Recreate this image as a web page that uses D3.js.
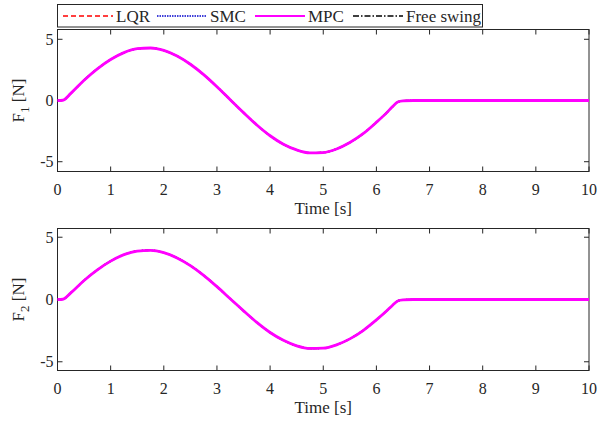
<!DOCTYPE html>
<html>
<head>
<meta charset="utf-8">
<script src="https://cdn.jsdelivr.net/npm/d3@7"></script>
<style>
  body { margin: 0; background: #fff; }
  svg { display: block; }
  text { font-family: "Liberation Serif", "Times New Roman", serif; }
</style>
</head>
<body>
<script>
// time samples [s]
const time = [0, 0.1, 0.25, 0.5, 0.75, 1.0, 1.25, 1.5, 1.75, 2.0, 2.25, 2.5, 2.75, 3.0,
    3.25, 3.5, 3.75, 4.0, 4.25, 4.5, 4.75, 5.0, 5.25, 5.5, 5.75, 6.0, 6.2, 6.3, 6.4, 6.5, 6.7, 8, 10];

// F1 [N] (all controllers overlap)
const f1 = [0, 0.02, 0.58, 1.66, 2.59, 3.35, 3.91, 4.23, 4.29, 4.09, 3.63, 2.96, 2.11, 1.12,
    0.06, -0.99, -2.00, -2.88, -3.57, -4.04, -4.28, -4.25, -3.96, -3.43, -2.71, -1.78, -0.97, -0.52, -0.13, -0.03, 0, 0, 0];

// F2 [N]
const f2 = [0, 0.02, 0.53, 1.53, 2.38, 3.08, 3.60, 3.89, 3.95, 3.76, 3.34, 2.72, 1.94, 1.03,
    0.06, -0.91, -1.84, -2.65, -3.28, -3.72, -3.93, -3.91, -3.64, -3.16, -2.49, -1.64, -0.89, -0.48, -0.12, -0.03, 0, 0, 0];

const seriesNames = ["LQR", "SMC", "MPC", "Free swing"];
const seriesColors = ["#ff0000", "#0000cc", "#ff00ff", "#000000"];
const seriesDash = ["5,3", "1.5,1", null, "6,2,1.5,2"];
const xTicks = [0, 1, 2, 3, 4, 5, 6, 7, 8, 9, 10];
const yTicks = [-5, 0, 5];

const W = 601, H = 425;
const svg = d3.select("body").append("svg")
    .attr("width", W)
    .attr("height", H);

const axisColor = "#262626";
const left = 57.5, right = 589;

const panels = [
    { data: f1, top: 29.5, bottom: 171.5, dom: [-5.8, 5.8], sub: "1" },
    { data: f2, top: 228.5, bottom: 370.5, dom: [-5.7, 5.7], sub: "2" }
];

const x = d3.scaleLinear().domain([0, 10]).range([left, right]);

panels.forEach(p => {
    const y = d3.scaleLinear().domain(p.dom).range([p.bottom, p.top]);
    const g = svg.append("g");

    // box
    g.append("rect")
        .attr("x", left).attr("y", p.top)
        .attr("width", right - left).attr("height", p.bottom - p.top)
        .attr("fill", "none").attr("stroke", axisColor).attr("stroke-width", 1);

    // ticks inward on all four sides
    const tl = 5;
    xTicks.forEach(t => {
        g.append("line").attr("x1", x(t)).attr("x2", x(t))
            .attr("y1", p.bottom).attr("y2", p.bottom - tl)
            .attr("stroke", axisColor);
        g.append("line").attr("x1", x(t)).attr("x2", x(t))
            .attr("y1", p.top).attr("y2", p.top + tl)
            .attr("stroke", axisColor);
        g.append("text").attr("x", x(t)).attr("y", p.bottom + 23)
            .attr("text-anchor", "middle")
            .attr("font-size", 16).attr("fill", axisColor)
            .text(t);
    });
    yTicks.forEach(t => {
        g.append("line").attr("x1", left).attr("x2", left + tl)
            .attr("y1", y(t)).attr("y2", y(t))
            .attr("stroke", axisColor);
        g.append("line").attr("x1", right).attr("x2", right - tl)
            .attr("y1", y(t)).attr("y2", y(t))
            .attr("stroke", axisColor);
        g.append("text").attr("x", left - 4).attr("y", y(t) + 5.5)
            .attr("text-anchor", "end")
            .attr("font-size", 16).attr("fill", axisColor)
            .text(t);
    });

    // x label
    g.append("text").attr("x", (left + right) / 2).attr("y", p.bottom + 42)
        .attr("text-anchor", "middle")
        .attr("font-size", 17).attr("fill", axisColor)
        .text("Time [s]");

    // y label with subscript
    const yl = g.append("text")
        .attr("transform", `translate(24,${(p.top + p.bottom) / 2}) rotate(-90)`)
        .attr("text-anchor", "middle")
        .attr("font-size", 17).attr("fill", axisColor);
    yl.append("tspan").text("F");
    yl.append("tspan").attr("dy", 5).attr("font-size", 13).text(p.sub);
    yl.append("tspan").attr("dy", -5).text(" [N]");

    // lines: free swing, LQR, SMC under MPC
    const line = d3.line()
        .x((d, i) => x(time[i]))
        .y(d => y(d))
        .curve(d3.curveMonotoneX);
    [3, 0, 1, 2].forEach(k => {
        g.append("path")
            .datum(p.data)
            .attr("d", line)
            .attr("fill", "none")
            .attr("stroke", seriesColors[k])
            .attr("stroke-width", k === 2 ? 2.8 : 1.6)
            .attr("stroke-dasharray", seriesDash[k]);
    });
});

// legend
const leg = svg.append("g");
leg.append("rect")
    .attr("x", left).attr("y", 4.5)
    .attr("width", 425).attr("height", 22.5)
    .attr("fill", "#fff").attr("stroke", axisColor).attr("stroke-width", 1);
const legX = [63, 157, 255, 353];
seriesNames.forEach((n, k) => {
    leg.append("line")
        .attr("x1", legX[k]).attr("x2", legX[k] + 50)
        .attr("y1", 16).attr("y2", 16)
        .attr("stroke", seriesColors[k])
        .attr("stroke-width", k === 2 ? 2 : 1.5)
        .attr("stroke-dasharray", seriesDash[k]);
    leg.append("text")
        .attr("x", legX[k] + 53).attr("y", 21.5)
        .attr("font-size", 17).attr("fill", axisColor)
        .text(n);
});
</script>
</body>
</html>
